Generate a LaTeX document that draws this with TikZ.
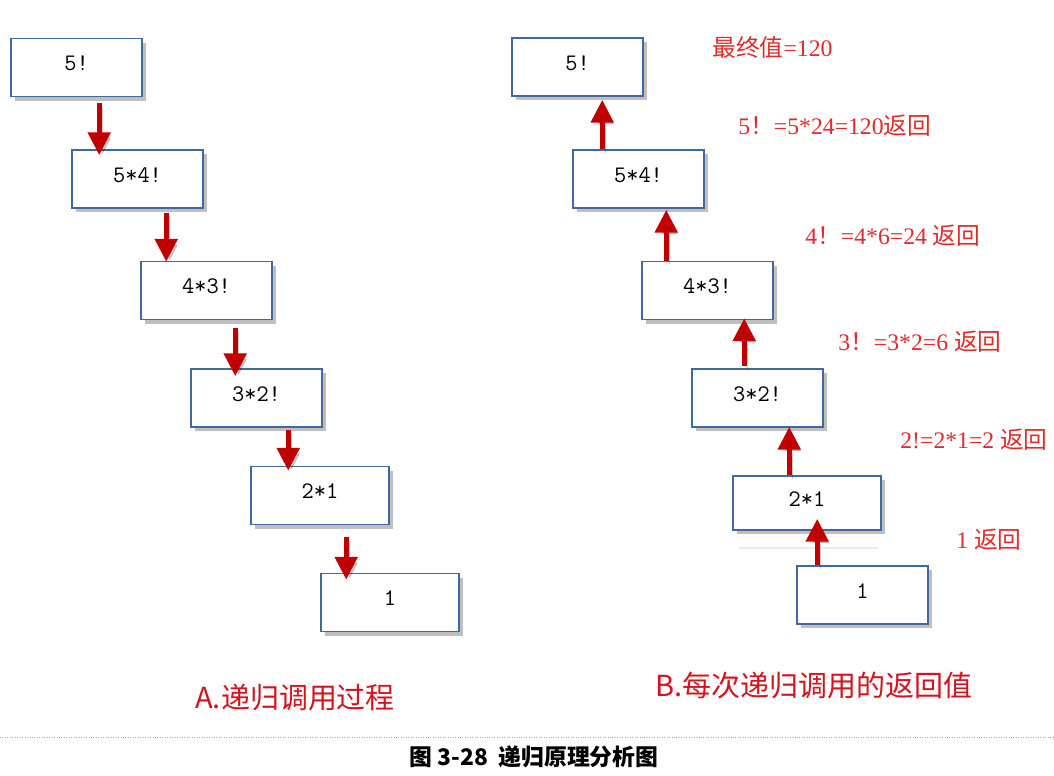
\documentclass[tikz,border=0pt]{standalone}
\usepackage{fontspec}
\setmainfont{Liberation Serif}
\newfontfamily\cjk{Noto Sans CJK SC}
\usepackage{tikz}
\usetikzlibrary{positioning,arrows.meta,calc,shadows}
\definecolor{boxblue}{HTML}{41699D}
\definecolor{arrowred}{HTML}{C00000}
\definecolor{labelred}{HTML}{DD2C2C}
\definecolor{capred}{HTML}{D2141E}

\begin{document}
\begin{tikzpicture}[
  x=0.02cm, y=-0.02cm,
  callbox/.style={draw=boxblue,line width=0.9pt,fill=white,minimum width=2.62cm,minimum height=1.16cm,
    inner sep=0pt,text depth=5pt,font=\ttfamily\fontsize{13.5}{15}\selectfont,
    drop shadow={shadow xshift=2.5pt,shadow yshift=-2.5pt,opacity=0.25,fill=black}},
  callarrow/.style={draw=arrowred,line width=3pt,-{Triangle[width=12.5pt,length=13pt]},
    preaction={draw=black,opacity=0.2,transform canvas={xshift=2pt,yshift=-2pt}}},
  retlabel/.style={anchor=west,inner sep=0pt,text=labelred,font=\fontsize{13.5}{15}\selectfont},
  partlabel/.style={anchor=west,inner sep=0pt,text=capred,font=\cjk\fontsize{16.5}{18}\selectfont}
]
\useasboundingbox (0,0) rectangle (1054,775);

% A: calls going down
\node[callbox] (L1) at (76.5,67.5) {5!};
\node[callbox] (L2) at (137.5,179) {5*4!};
\node[callbox] (L3) at (206.5,290.5) {4*3!};
\node[callbox] (L4) at (256.5,398) {3*2!};
\node[callbox,minimum width=2.76cm] (L5) at (320,495.5) {2*1};
\node[callbox,minimum width=2.76cm] (L6) at (390,602.5) {1};

\foreach \src/\dst/\dx/\ya/\yb in {L1/L2/28/6/6, L2/L3/26/4/1, L3/L4/45/8/8, L4/L5/38/2/5, L5/L6/26/12/7}
  \draw[callarrow] ($(\dst.north west |- \src.south)+(\dx,\ya)$) -- ($(\dst.north west)+(\dx,\yb)$);

% B: values coming back up
\node[callbox] (R1) at (577.5,67) {5!};
\node[callbox] (R2) at (638.5,179) {5*4!};
\node[callbox] (R3) at (707.5,290.5) {4*3!};
\node[callbox] (R4) at (757.5,398) {3*2!};
\node[callbox,minimum width=2.96cm,minimum height=1.08cm] (R5) at (807,503) {2*1};
\node[callbox] (R6) at (862.5,595) {1};

\draw[black!8,line width=1pt] ($(R5.south west)+(7,17)$) -- ($(R5.south east)+(-4,17)$);

\foreach \src/\dst/\dx/\ya/\yb in {R2/R1/30/0/3, R3/R2/25/0/1, R4/R3/53/-2/-2, R5/R4/57/0/-1, R6/R5/21/0/-12}
  \draw[callarrow] ($(\src.north west)+(\dx,\ya)$) -- ($(\src.north west |- \dst.south)+(\dx,\yb)$);

% return values
\node[retlabel] (v0) at (712,47) {{\cjk 最终值}=120};
\node[retlabel] (v5) at (738,126) {5{\cjk ！}=5*24=120{\cjk 返回}};
\node[retlabel] (v4) at (805,236) {4{\cjk ！}=4*6=24 {\cjk 返回}};
\node[retlabel] (v3) at (838,342) {3{\cjk ！}=3*2=6 {\cjk 返回}};
\node[retlabel] (v2) at (900,440) {2!=2*1=2 {\cjk 返回}};
\node[retlabel] (v1) at (956,540) {1 {\cjk 返回}};

% captions
\node[partlabel] (capA) at (195,697) {A.递归调用过程};
\node[partlabel] (capB) at (655,685) {B.每次递归调用的返回值};
\draw[densely dotted,black!35] (0,737) -- (1054,737);
\node[font=\cjk\bfseries\fontsize{13}{15}\selectfont,inner sep=0pt] (fig) at (534,757) {图 3-28\ \ 递归原理分析图};
\end{tikzpicture}
\end{document}
